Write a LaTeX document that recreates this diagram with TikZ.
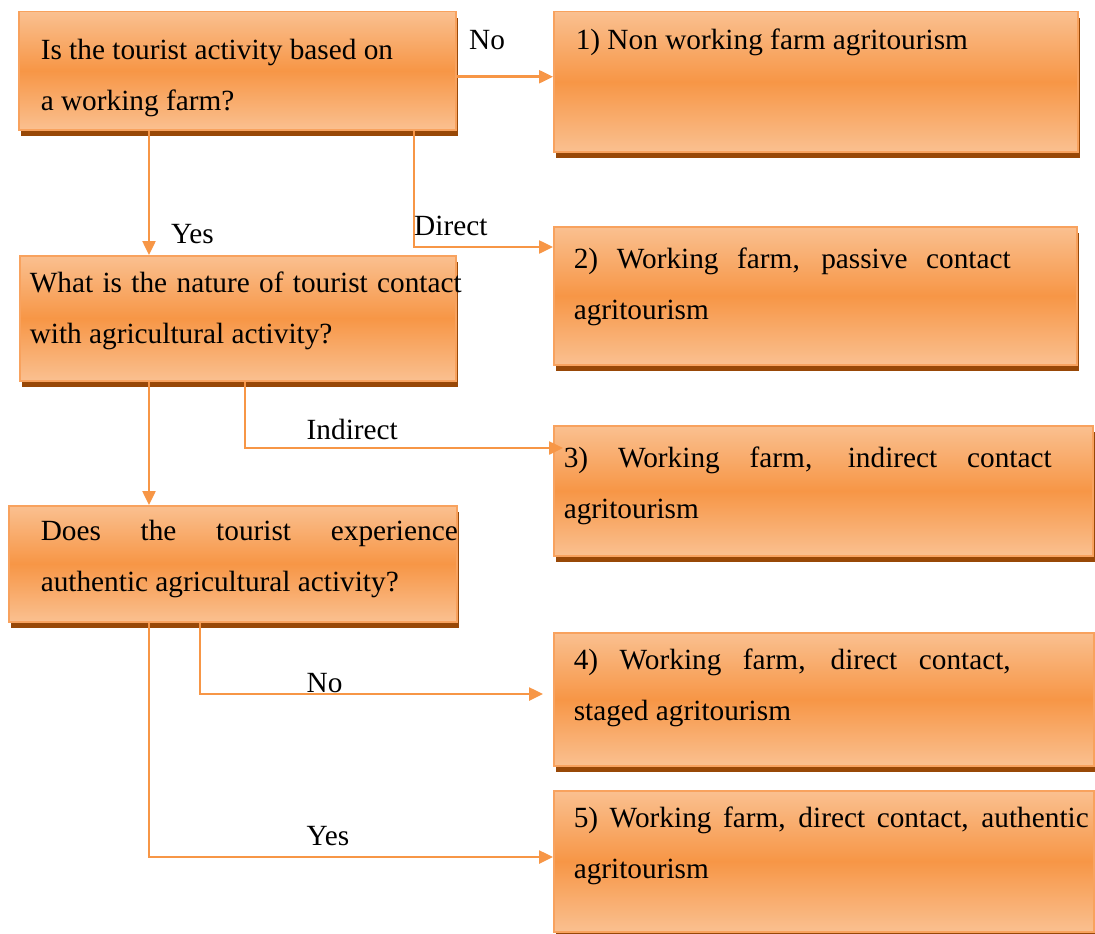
\documentclass[tikz,border=0pt]{standalone}
\usepackage{fontspec}
\setmainfont{Liberation Serif}
\usetikzlibrary{arrows.meta,shadows}
\definecolor{cajaclara}{HTML}{FAC090}
\definecolor{cajamedia}{HTML}{F79646}
\definecolor{cajaborde}{HTML}{F8A25E}
\definecolor{cajasombra}{HTML}{984807}
\definecolor{flecha}{HTML}{F79646}
% texto de una caja: ancho, alto, base de la primera linea, texto
\newcommand{\textocaja}[4]{\parbox[t][#2pt][t]{#1pt}{\rule{0pt}{#3pt}#4}}
\newcommand{\repartir}[2]{\makebox[#1pt][s]{#2}}
\tikzset{
  caja/.style={rectangle, anchor=north west, draw=cajaborde, line width=1.5pt,
    top color=cajaclara, bottom color=cajaclara, middle color=cajamedia,
    drop shadow={shadow xshift=2.5pt, shadow yshift=-6pt, fill=cajasombra, opacity=1},
    inner ysep=0pt, font=\fontsize{29.3}{51}\selectfont},
  enlace/.style={draw=flecha, line width=2.5pt, -{Triangle[length=14pt,width=13pt]}},
  etiqueta/.style={anchor=base west, inner sep=0pt, font=\fontsize{29.3}{35}\selectfont}
}
\begin{document}
\begin{tikzpicture}[x=1pt,y=-1pt]
    \useasboundingbox (0,0) rectangle (1095,934);
    % preguntas
    \node[caja, inner xsep=22pt] (q1) at (18,11) {\textocaja{393}{118}{48}{Is the tourist activity based on\\ a working farm?}};
    \node[caja, inner xsep=10pt] (q2) at (19,255) {\textocaja{416}{125}{37}{\repartir{432}{What is the nature of tourist contact}\\ with agricultural activity?}};
    \node[caja, inner xsep=32pt] (q3) at (8,505) {\textocaja{384}{116}{35}{\repartir{417}{Does the tourist experience}\\ authentic agricultural activity?}};
    % resultados
    \node[caja, inner xsep=22pt] (r1) at (553,11) {\textocaja{480}{140}{38}{1) Non working farm agritourism}};
    \node[caja, inner xsep=20pt] (r2) at (553,226) {\textocaja{483}{138}{42}{\repartir{437}{2) Working farm, passive contact}\\ agritourism}};
    \node[caja, inner xsep=10pt] (r3) at (553,425) {\textocaja{519}{130}{42}{\repartir{488}{3) Working farm, indirect contact}\\ agritourism}};
    \node[caja, inner xsep=20pt] (r4) at (553,632) {\textocaja{500}{133}{37}{\repartir{437}{4) Working farm, direct contact,}\\ staged agritourism}};
    \node[caja, inner xsep=20pt] (r5) at (553,790) {\textocaja{500}{141}{37}{\repartir{515}{5) Working farm, direct contact, authentic}\\ agritourism}};
    % carriles verticales
    \coordinate (carrilA) at (149,0);
    \coordinate (carrilN) at (200,0);
    \coordinate (carrilI) at (245,0);
    \coordinate (carrilD) at (414,0);
    % flechas
    \draw[enlace] ([yshift=-6pt]q1.east) -- ([yshift=-6pt]q1.east -| r1.west);
    \draw[enlace] (carrilA |- q1.south) -- (carrilA |- q2.north);
    \draw[enlace] (carrilD |- q1.south) |- ([yshift=-21pt]r2.north west);
    \draw[enlace] (carrilA |- q2.south) -- (carrilA |- q3.north);
    \draw[enlace] (carrilI |- q2.south) |- ([xshift=10pt,yshift=-23pt]r3.north west);
    \draw[enlace] (carrilN |- q3.south) |- ([xshift=-10pt,yshift=-62pt]r4.north west);
    \draw[enlace] (carrilA |- q3.south) |- ([yshift=-67pt]r5.north west);
    % etiquetas
    \node[etiqueta] (no1) at (469,50) {No};
    \node[etiqueta] (si1) at (171,243) {Yes};
    \node[etiqueta] (directo) at (414,235) {Direct};
    \node[etiqueta] (indirecto) at (306.5,439) {Indirect};
    \node[etiqueta] (no2) at (306.5,692) {No};
    \node[etiqueta] (si2) at (306.5,845) {Yes};
\end{tikzpicture}
\end{document}
